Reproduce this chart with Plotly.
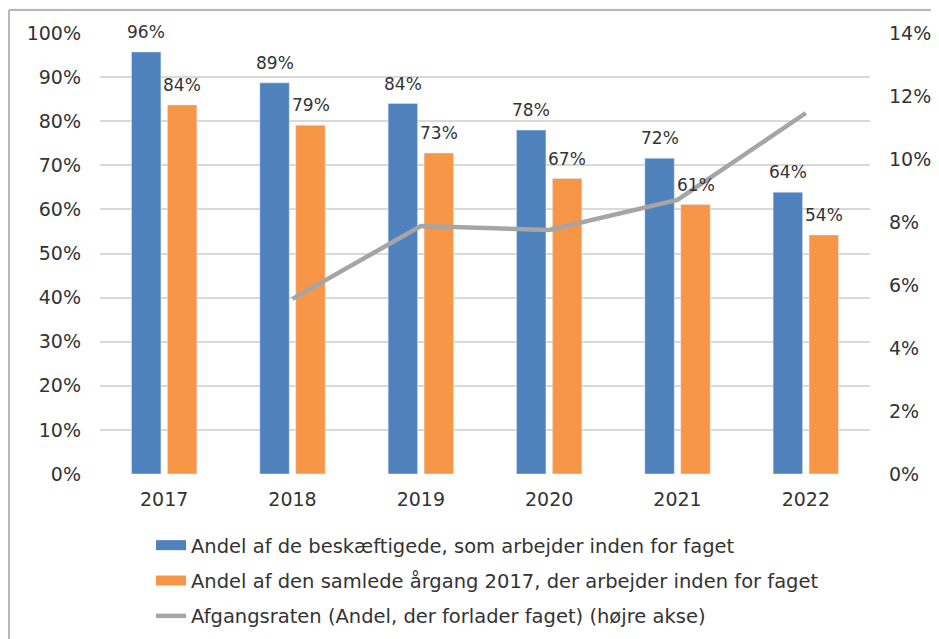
import plotly.graph_objects as go

years = ["2017", "2018", "2019", "2020", "2021", "2022"]
andel_beskaeftigede = [0.957, 0.887, 0.840, 0.780, 0.716, 0.639]
andel_aargang = [0.837, 0.791, 0.728, 0.670, 0.611, 0.542]
afgangsrate = [None, 0.0556, 0.0787, 0.0775, 0.0870, 0.1146]

names = [
    "Andel af de beskæftigede, som arbejder inden for faget",
    "Andel af den samlede årgang 2017, der arbejder inden for faget",
    "Afgangsraten (Andel, der forlader faget) (højre akse)",
]

BLUE = "#4F81BD"
ORANGE = "#F79646"
GRAY = "#A5A5A5"
TXT = "#333333"
TICKFONT = dict(family="DejaVu Sans, Verdana, sans-serif", size=19, color=TXT)
LEGFONT = dict(family="DejaVu Sans, Verdana, sans-serif", size=19.5, color=TXT)
LABFONT = dict(family="DejaVu Sans, Verdana, sans-serif", size=17, color=TXT)

fig = go.Figure()
fig.add_trace(go.Bar(x=years, y=andel_beskaeftigede, marker_color=BLUE, showlegend=False, name=names[0]))
fig.add_trace(go.Bar(x=years, y=andel_aargang, marker_color=ORANGE, showlegend=False, name=names[1]))
fig.add_trace(go.Scatter(x=years, y=afgangsrate, yaxis="y2", mode="lines",
                         line=dict(color=GRAY, width=4.5), showlegend=False, name=names[2]))

# legend entries (no visible data)
for nm, col, w in [(names[0], BLUE, 11), (names[1], ORANGE, 11), (names[2], GRAY, 4.5)]:
    fig.add_trace(go.Scatter(x=[years[0]], y=[None], mode="lines", line=dict(color=col, width=w),
                             name=nm, legendgroup=nm, showlegend=True, hoverinfo="skip"))

annotations = []
for i, v in enumerate(andel_beskaeftigede):
    annotations.append(dict(x=i, y=v, xref="x", yref="y", text=f"{v:.0%}", showarrow=False,
                            xshift=-18, yshift=8, yanchor="bottom", font=LABFONT))
for i, v in enumerate(andel_aargang):
    annotations.append(dict(x=i, y=v, xref="x", yref="y", text=f"{v:.0%}", showarrow=False,
                            xshift=18, yshift=8, yanchor="bottom", font=LABFONT))

# page body has an 8px margin: figure coordinates = screen - 8
W, H = 931, 631
L, R, T, B = 92, 69, 25, 165
pw, ph = W - L - R, H - T - B
def px(x):
    return (x - L) / pw
def py(y):
    return (H - B - y) / ph

shapes = [
    dict(type="rect", xref="paper", yref="paper", x0=px(0), x1=px(1), y0=py(H), y1=py(0),
         fillcolor="#F8F9FC", line_width=0, layer="below"),
    dict(type="rect", xref="paper", yref="paper", x0=px(0), x1=px(W), y0=py(2), y1=py(0),
         fillcolor="#F8F9FC", line_width=0, layer="below"),
    dict(type="line", xref="paper", yref="paper", x0=px(1), x1=px(1), y0=py(H), y1=py(2),
         line=dict(color="#A0A0A0", width=1.5)),
    dict(type="line", xref="paper", yref="paper", x0=px(1), x1=px(W), y0=py(2), y1=py(2),
         line=dict(color="#A0A0A0", width=1.5)),
]

fig.update_layout(
    width=W, height=H,
    margin=dict(l=L, r=R, t=T, b=B, autoexpand=False),
    paper_bgcolor="white", plot_bgcolor="white",
    barmode="group", bargap=0.44, bargroupgap=0.18,
    xaxis=dict(type="category", categoryorder="array", categoryarray=years, range=[-0.5, 5.5],
               tickfont=TICKFONT, showgrid=False, showline=False, ticks="",
               ticklabelstandoff=12),
    yaxis=dict(range=[0, 1], dtick=0.1, tickformat=".0%", tickfont=TICKFONT,
               showgrid=True, gridcolor="#D9D9D9", gridwidth=1.5, zeroline=False,
               showline=False, ticklabelstandoff=18),
    yaxis2=dict(range=[0, 0.14], tickvals=[0, 0.02, 0.04, 0.06, 0.08, 0.10, 0.12, 0.14],
                tickformat=".0%", overlaying="y", side="right", showgrid=False,
                zeroline=False, showline=False, tickfont=TICKFONT, ticklabelstandoff=18),
    legend=dict(x=px(143), y=py(518), xanchor="left", yanchor="top", orientation="v",
                font=LEGFONT, tracegroupgap=7, itemwidth=30, bgcolor="rgba(0,0,0,0)"),
    annotations=annotations,
    shapes=shapes,
)

fig.write_html("out.html")
